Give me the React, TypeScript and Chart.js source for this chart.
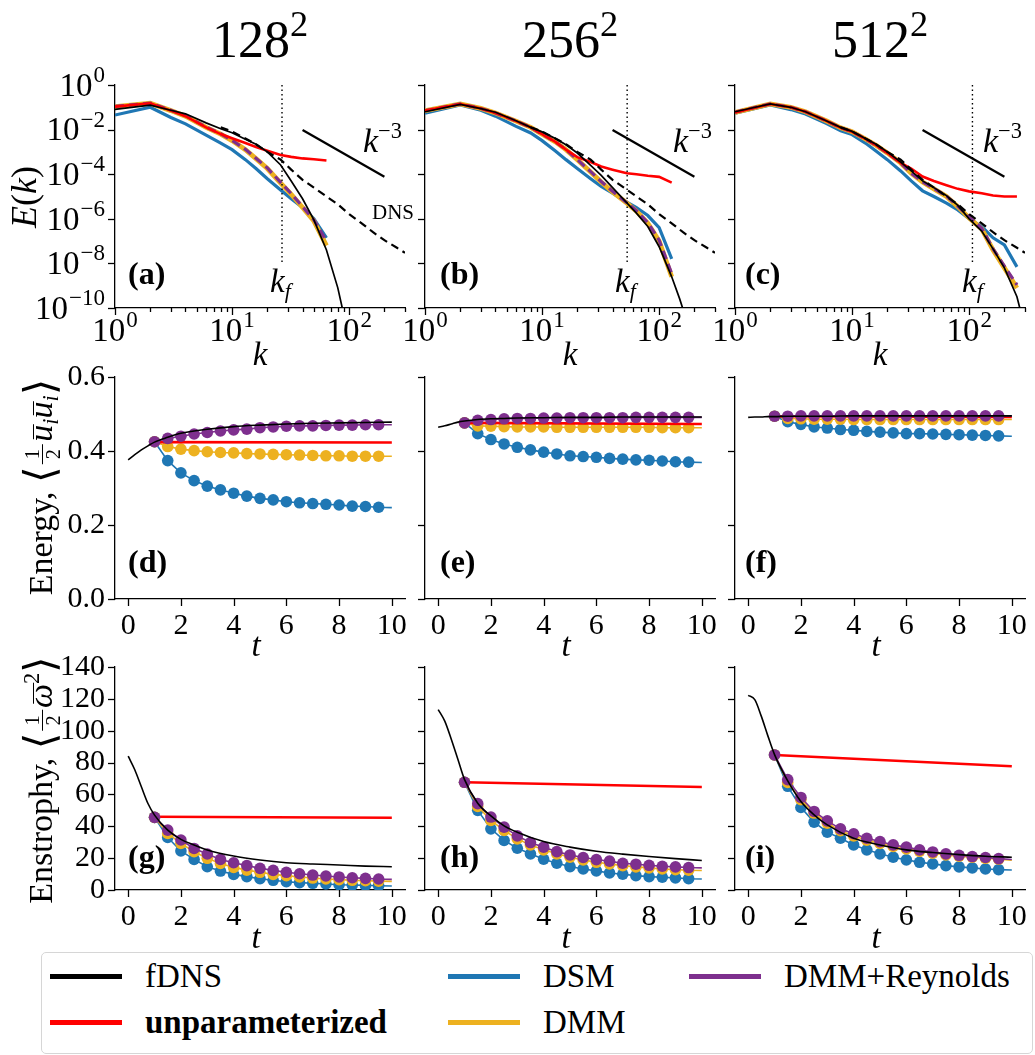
import React, { useEffect, useRef } from "react";
import { Chart, registerables } from "chart.js";

Chart.register(...registerables);

const FONT = "'Liberation Serif', 'DejaVu Serif', serif";

const BLACK = "#000000";
const RED = "#ff0000";
const BLUE = "#1f77b4";
const ORANGE = "#edb120";
const PURPLE = "#7e2f8e";

// ---------- tick values ----------
const K_TICKS = [1, 2, 3, 4, 5, 6, 7, 8, 9, 10, 20, 30, 40, 50, 60, 70, 80, 90, 100, 200, 300];
const E_TICKS = [1e-10, 1e-8, 1e-6, 1e-4, 1e-2, 1];
const T_TICKS = [0, 2, 4, 6, 8, 10];
const EN_TICKS = [0, 0.2, 0.4, 0.6];
const ENS_TICKS = [0, 20, 40, 60, 80, 100, 120, 140];

// ---------- spectra, 128^2 ----------
const K_A_FDNS = [1, 2, 3, 4, 6, 8, 10, 13, 16, 20, 26, 32, 40, 50, 64, 80, 90];
const E_A_FDNS = [8.1e-2, 1.26e-1, 7.4e-2, 5.1e-2, 2.0e-2, 1.1e-2, 7.2e-3, 3.7e-3, 2.2e-3, 1.0e-3, 2.6e-4, 5.0e-5, 7.9e-6, 8.9e-7, 4.0e-8, 8.0e-10, 5.0e-11];
const K_A = [1, 2, 3, 4, 6, 8, 10, 13, 16, 20, 26, 32, 40, 50, 64];
const E_A_DSM = [4.5e-2, 1.0e-1, 3.5e-2, 1.8e-2, 5.6e-3, 2.5e-3, 1.26e-3, 4.5e-4, 1.8e-4, 6.3e-5, 1.95e-5, 7.9e-6, 3.2e-6, 1.0e-6, 1.4e-7];
const E_A_DMM = [1.07e-1, 1.51e-1, 7.1e-2, 4.0e-2, 1.26e-2, 6.3e-3, 3.2e-3, 1.26e-3, 5.0e-4, 1.8e-4, 4.0e-5, 1.26e-5, 3.2e-6, 7.9e-7, 6.3e-8];
const E_A_REY = [1.1e-1, 1.55e-1, 7.4e-2, 4.2e-2, 1.3e-2, 6.5e-3, 3.3e-3, 1.3e-3, 5.2e-4, 1.9e-4, 4.3e-5, 1.35e-5, 3.5e-6, 9.0e-7, 1.0e-7];
const E_A_RED = [1.07e-1, 1.51e-1, 7.1e-2, 4.0e-2, 1.26e-2, 6.3e-3, 4.1e-3, 2.5e-3, 1.66e-3, 1.12e-3, 7.2e-4, 6.0e-4, 5.1e-4, 4.7e-4, 4.1e-4];

// ---------- spectra, 256^2 ----------
const K_B_FDNS = [1, 2, 3, 4, 6, 8, 10, 13, 16, 20, 26, 32, 40, 53, 64, 80, 100, 128, 150, 170];
const E_B_FDNS = [6.3e-2, 1.35e-1, 8.7e-2, 6.0e-2, 2.5e-2, 1.26e-2, 7.9e-3, 4.0e-3, 2.1e-3, 8.9e-4, 2.5e-4, 8.9e-5, 2.5e-5, 5.2e-6, 1.8e-6, 4.5e-7, 5.6e-8, 2.5e-9, 2.5e-10, 3.2e-11];
const K_B = [1, 2, 3, 4, 6, 8, 10, 13, 16, 20, 26, 32, 40, 53, 64, 80, 100, 128];
const E_B_DSM = [5.4e-2, 1.26e-1, 7.4e-2, 4.0e-2, 1.4e-2, 7.1e-3, 3.2e-3, 1.1e-3, 4.5e-4, 1.8e-4, 6.3e-5, 2.8e-5, 1.4e-5, 5.6e-6, 3.2e-6, 1.4e-6, 4.0e-7, 1.6e-8];
const E_B_DMM = [7.1e-2, 1.41e-1, 8.9e-2, 5.6e-2, 2.4e-2, 1.26e-2, 6.3e-3, 2.8e-3, 1.26e-3, 4.5e-4, 1.26e-4, 4.5e-5, 1.6e-5, 5.0e-6, 2.2e-6, 6.3e-7, 1.0e-7, 2.5e-9];
const E_B_REY = [7.1e-2, 1.41e-1, 8.9e-2, 5.6e-2, 2.4e-2, 1.26e-2, 6.3e-3, 2.8e-3, 1.26e-3, 4.5e-4, 1.3e-4, 4.7e-5, 1.7e-5, 5.2e-6, 2.3e-6, 6.8e-7, 1.1e-7, 3.5e-9];
const E_B_RED = [7.1e-2, 1.41e-1, 8.9e-2, 5.6e-2, 2.4e-2, 1.26e-2, 6.3e-3, 2.8e-3, 1.26e-3, 5.8e-4, 3.5e-4, 2.2e-4, 1.6e-4, 1.1e-4, 1.0e-4, 8.5e-5, 7.6e-5, 4.2e-5];

// ---------- spectra, 512^2 ----------
const K_C_FDNS = [1, 2, 3, 4, 6, 8, 10, 13, 16, 20, 26, 32, 40, 50, 64, 80, 100, 128, 160, 200, 256, 280];
const E_C_FDNS = [6.3e-2, 1.41e-1, 1.0e-1, 6.3e-2, 2.5e-2, 1.26e-2, 8.3e-3, 4.0e-3, 2.2e-3, 1.0e-3, 3.5e-4, 1.4e-4, 5.0e-5, 2.5e-5, 1.1e-5, 4.0e-6, 1.0e-6, 2.8e-7, 4.5e-8, 6.3e-9, 3.2e-10, 5.0e-11];
const K_C = [1, 2, 3, 4, 6, 8, 10, 13, 16, 20, 26, 32, 40, 50, 64, 80, 100, 128, 160, 200, 256];
const E_C_DSM = [5.4e-2, 1.26e-1, 7.9e-2, 5.0e-2, 1.9e-2, 8.9e-3, 6.0e-3, 2.5e-3, 1.1e-3, 4.5e-4, 1.4e-4, 5.0e-5, 1.8e-5, 1.0e-5, 5.0e-6, 2.5e-6, 1.0e-6, 4.5e-7, 1.4e-7, 6.8e-8, 7.0e-9];
const E_C_DMM = [5.9e-2, 1.41e-1, 1.0e-1, 6.3e-2, 2.5e-2, 1.2e-2, 8.0e-3, 3.8e-3, 2.0e-3, 9.0e-4, 3.2e-4, 1.1e-4, 4.5e-5, 2.2e-5, 1.0e-5, 3.5e-6, 1.1e-6, 3.5e-7, 4.0e-8, 6.3e-9, 7.9e-10];
const E_C_REY = [6.0e-2, 1.43e-1, 1.0e-1, 6.3e-2, 2.5e-2, 1.2e-2, 8.0e-3, 3.8e-3, 2.0e-3, 9.0e-4, 3.2e-4, 1.1e-4, 4.6e-5, 2.3e-5, 1.05e-5, 3.7e-6, 1.2e-6, 3.8e-7, 4.5e-8, 7.5e-9, 1.1e-9];
const E_C_RED = [5.9e-2, 1.41e-1, 1.0e-1, 6.3e-2, 2.5e-2, 1.2e-2, 8.0e-3, 3.8e-3, 2.0e-3, 9.0e-4, 3.2e-4, 1.8e-4, 7.9e-5, 5.0e-5, 3.2e-5, 2.2e-5, 1.7e-5, 1.4e-5, 1.1e-5, 1.0e-5, 1.0e-5];

// ---------- DNS reference, slope, filter wavenumber ----------
const K_DNS = [8, 10, 13, 16, 20, 26, 32, 40, 50, 64, 80, 100, 128, 160, 200, 256, 300];
const E_DNS = [1.26e-2, 8.3e-3, 4.0e-3, 2.2e-3, 1.0e-3, 4.5e-4, 1.6e-4, 5.6e-5, 2.5e-5, 1.0e-5, 4.5e-6, 1.6e-6, 6.3e-7, 2.5e-7, 1.1e-7, 5.0e-8, 3.0e-8];
const K_SLOPE = [40, 200];
const E_SLOPE = [9.5e-3, 7.6e-5];
const K_F = [26.7, 53.3, 106.7];
const E_KF = [1, 1e-8];

// ---------- time series ----------
const T_M = [1, 1.5, 2, 2.5, 3, 3.5, 4, 4.5, 5, 5.5, 6, 6.5, 7, 7.5, 8, 8.5, 9, 9.5, 10];
const T_F = [0, 0.25, 0.5, 0.75, 1, 1.5, 2, 2.5, 3, 4, 5, 6, 7, 8, 9, 10];
const T_R = [1, 10];

// energy 128^2
const D_FDNS = [0.376, 0.39, 0.403, 0.414, 0.424, 0.437, 0.448, 0.454, 0.459, 0.466, 0.47, 0.473, 0.475, 0.476, 0.477, 0.478];
const D_RED = [0.424, 0.423];
const D_REY = [0.425, 0.434, 0.44, 0.446, 0.45, 0.454, 0.457, 0.459, 0.463, 0.465, 0.467, 0.468, 0.468, 0.469, 0.47, 0.47, 0.471, 0.471, 0.471];
const D_DMM = [0.425, 0.412, 0.405, 0.401, 0.398, 0.396, 0.395, 0.393, 0.392, 0.391, 0.39, 0.389, 0.388, 0.387, 0.387, 0.386, 0.386, 0.386, 0.386];
const D_DSM = [0.425, 0.374, 0.341, 0.32, 0.305, 0.295, 0.286, 0.278, 0.272, 0.268, 0.263, 0.26, 0.258, 0.256, 0.254, 0.251, 0.25, 0.248, 0.247];
// energy 256^2
const E_FDNS_T = [0.464, 0.468, 0.473, 0.478, 0.481, 0.485, 0.487, 0.488, 0.489, 0.49, 0.491, 0.491, 0.492, 0.492, 0.492, 0.492];
const E_RED_T = [0.476, 0.473];
const E_REY_T = [0.476, 0.483, 0.485, 0.487, 0.488, 0.488, 0.489, 0.489, 0.49, 0.49, 0.49, 0.49, 0.49, 0.491, 0.491, 0.491, 0.491, 0.491, 0.491];
const E_DMM_T = [0.476, 0.468, 0.467, 0.466, 0.465, 0.465, 0.465, 0.464, 0.464, 0.464, 0.464, 0.464, 0.464, 0.464, 0.464, 0.463, 0.463, 0.463, 0.463];
const E_DSM_T = [0.476, 0.447, 0.431, 0.419, 0.41, 0.403, 0.397, 0.392, 0.387, 0.385, 0.383, 0.38, 0.378, 0.376, 0.375, 0.373, 0.371, 0.37, 0.369];
// energy 512^2
const F_FDNS = [0.491, 0.492, 0.492, 0.493, 0.493, 0.494, 0.494, 0.494, 0.494, 0.495, 0.495, 0.495, 0.495, 0.495, 0.495, 0.495];
const F_RED = [0.494, 0.492];
const F_REY = [0.494, 0.494, 0.495, 0.495, 0.495, 0.495, 0.495, 0.495, 0.495, 0.495, 0.495, 0.495, 0.495, 0.495, 0.495, 0.495, 0.495, 0.495, 0.495];
const F_DMM = [0.494, 0.488, 0.487, 0.486, 0.486, 0.486, 0.485, 0.485, 0.485, 0.485, 0.485, 0.485, 0.485, 0.485, 0.485, 0.485, 0.485, 0.485, 0.485];
const F_DSM = [0.494, 0.479, 0.472, 0.465, 0.462, 0.458, 0.456, 0.453, 0.451, 0.449, 0.447, 0.447, 0.446, 0.445, 0.444, 0.443, 0.442, 0.441, 0.44];
// enstrophy 128^2
const G_FDNS = [84.0, 75.5, 64.8, 54.3, 47.0, 37.6, 31.8, 28.2, 25.1, 21.3, 18.8, 17.1, 16.3, 15.7, 15.0, 14.6];
const G_RED = [46.0, 45.4];
const G_REY = [45.6, 37.6, 31.4, 26.1, 22.6, 19.2, 17.1, 15.3, 13.6, 12.3, 11.1, 10.2, 9.4, 8.8, 8.2, 7.7, 7.3, 6.9, 6.7];
const G_DMM = [45.6, 35.5, 29.3, 24.0, 19.9, 16.7, 14.2, 12.5, 11.1, 9.8, 9.0, 8.2, 7.5, 6.9, 6.5, 6.1, 5.9, 5.6, 5.4];
const G_DSM = [45.6, 33.0, 24.5, 19.2, 14.6, 11.9, 9.8, 8.4, 7.1, 6.1, 5.2, 4.6, 4.2, 3.8, 3.3, 3.1, 2.9, 2.7, 2.5];
// enstrophy 256^2
const H_FDNS = [113.3, 106.0, 94.5, 81.9, 69.3, 54.5, 46.5, 40.3, 36.3, 30.4, 26.9, 24.3, 22.5, 21.0, 19.7, 18.5];
const H_RED = [67.6, 64.7];
const H_REY = [67.6, 54.2, 45.8, 39.5, 34.0, 29.8, 26.9, 24.1, 22.0, 20.4, 19.1, 18.1, 16.8, 16.2, 15.5, 14.9, 14.5, 14.1, 13.9];
const H_DMM = [67.6, 52.5, 43.7, 37.4, 32.1, 28.3, 25.2, 22.7, 20.6, 18.9, 17.4, 16.4, 15.3, 14.5, 13.9, 13.2, 12.8, 12.4, 12.2];
const H_DSM = [67.6, 50.0, 38.4, 31.1, 26.2, 22.7, 19.3, 16.8, 14.7, 13.2, 12.0, 10.7, 9.9, 9.0, 8.4, 8.0, 7.6, 7.1, 6.9];
// enstrophy 512^2
const I_FDNS = [122.2, 119.5, 109.0, 96.6, 85.0, 68.5, 55.6, 47.2, 40.9, 32.5, 28.3, 25.2, 23.5, 22.2, 21.2, 20.6];
const I_RED = [84.8, 77.7];
const I_REY = [84.8, 69.3, 58.1, 49.3, 43.4, 38.4, 35.3, 32.5, 30.4, 28.3, 26.9, 25.2, 23.9, 22.7, 21.8, 21.0, 20.4, 19.7, 19.1];
const I_DMM = [84.8, 67.5, 56.7, 48.3, 42.0, 37.2, 34.0, 31.3, 29.2, 27.3, 25.8, 24.3, 23.1, 22.0, 21.2, 20.6, 19.9, 19.3, 18.7];
const I_DSM = [84.8, 65.1, 51.8, 42.6, 36.3, 32.5, 28.3, 25.2, 22.7, 20.6, 18.9, 17.4, 16.4, 15.3, 14.5, 13.9, 13.2, 12.8, 12.6];

const TITLES = ["128", "256", "512"];
const PANEL_TAGS = ["(a)", "(b)", "(c)", "(d)", "(e)", "(f)", "(g)", "(h)", "(i)"];
const LEGEND = [
  { label: "fDNS", color: BLACK, bold: false },
  { label: "unparameterized", color: RED, bold: true },
  { label: "DSM", color: BLUE, bold: false },
  { label: "DMM", color: ORANGE, bold: false },
  { label: "DMM+Reynolds", color: PURPLE, bold: false },
];

// ---------- layout ----------
const COLS = [115, 425, 735];
const COL_W = 290;
const ROWS = [
  { top: 85, h: 223 },
  { top: 377, h: 222 },
  { top: 667, h: 223 },
];
const ML = 120;
const MT = 25;
const MR = 25;
const MB = 60;

const isPow10 = (v: number) => Math.abs(Math.log10(v) - Math.round(Math.log10(v))) < 1e-6;

const pts = (xs: number[], ys: number[]) => xs.map((x, i) => ({ x, y: ys[i] }));
const ln = (xs: number[], ys: number[], color: string, width: number, extra: any = {}) => ({
  data: pts(xs, ys),
  borderColor: color,
  backgroundColor: color,
  borderWidth: width,
  pointRadius: 0,
  fill: false,
  tension: 0,
  ...extra,
});
const mk = (xs: number[], ys: number[], color: string) =>
  ln(xs, ys, color, 1.6, {
    pointRadius: (c: any) => (c.dataIndex < xs.length - 1 ? 5.8 : 0),
    pointBorderWidth: 0,
    pointBackgroundColor: color,
  });

function spectrumSets(kf: number[], ef: number[], k: number[], red: number[], rey: number[], dmm: number[], dsm: number[], kfv: number) {
  return [
    ln(kf, ef, BLACK, 1.7),
    ln(K_DNS, E_DNS, BLACK, 2.2, { borderDash: [8, 5] }),
    ln(K_SLOPE, E_SLOPE, BLACK, 2.3),
    ln([kfv, kfv], E_KF, BLACK, 1.4, { borderDash: [1.5, 3] }),
    ln(k, red, RED, 2.6),
    ln(k, rey, PURPLE, 3.2, { borderDash: [9, 5] }),
    ln(k, dmm, ORANGE, 4.8),
    ln(k, dsm, BLUE, 3.2),
  ];
}

function timeSets(fd: number[], red: number[], rey: number[], dmm: number[], dsm: number[]) {
  return [
    ln(T_F, fd, BLACK, 1.6, { cubicInterpolationMode: "monotone" }),
    mk(T_M, rey, PURPLE),
    ln(T_R, red, RED, 2.6),
    mk(T_M, dmm, ORANGE),
    mk(T_M, dsm, BLUE),
  ];
}

type Spec = {
  col: number;
  row: number;
  log: boolean;
  xMin: number;
  xMax: number;
  xTicks: number[];
  yMin: number;
  yMax: number;
  yTicks: number[];
  yFmt: (v: number) => string;
  showY: boolean;
  fs: number;
  datasets: any[];
};

// tick marks + power-of-ten labels (base "10" with a raised exponent)
function axisPlugin(s: Spec) {
  return {
    id: "axisdeco",
    afterDraw(chart: any) {
      const ctx = chart.ctx;
      ctx.save();
      ctx.strokeStyle = "#000";
      ctx.lineWidth = 1.3;
      const sx = chart.scales.x;
      sx.ticks.forEach((t: any) => {
        const major = !s.log || isPow10(t.value);
        const len = major ? 7 : 4;
        const p = Math.round(sx.getPixelForValue(t.value)) + 0.5;
        ctx.beginPath();
        ctx.moveTo(p, sx.top);
        ctx.lineTo(p, sx.top + len);
        ctx.stroke();
      });
      const sy = chart.scales.y;
      sy.ticks.forEach((t: any) => {
        const p = Math.round(sy.getPixelForValue(t.value)) + 0.5;
        ctx.beginPath();
        ctx.moveTo(sy.right, p);
        ctx.lineTo(sy.right - 7, p);
        ctx.stroke();
      });
      if (s.log) {
        const base = s.fs;
        const ex = Math.round(s.fs * 0.7);
        ctx.fillStyle = "#000";
        ctx.textBaseline = "alphabetic";
        const measure = (v: number) => {
          const e = String(Math.round(Math.log10(v))).replace("-", "−");
          ctx.font = `${base}px ${FONT}`;
          const w1 = ctx.measureText("10").width;
          ctx.font = `${ex}px ${FONT}`;
          const w2 = ctx.measureText(e).width;
          return { e, w1, w2 };
        };
        const draw = (v: number, xLeft: number, baseline: number) => {
          const m = measure(v);
          ctx.font = `${base}px ${FONT}`;
          ctx.textAlign = "left";
          ctx.fillText("10", xLeft, baseline);
          ctx.font = `${ex}px ${FONT}`;
          ctx.fillText(m.e, xLeft + m.w1 + 1, baseline - base * 0.42);
          return m;
        };
        sx.ticks.forEach((t: any) => {
          if (!isPow10(t.value)) return;
          const m = measure(t.value);
          const p = sx.getPixelForValue(t.value);
          draw(t.value, p - (m.w1 + m.w2 + 1) / 2, sx.top + 33);
        });
        if (s.showY) {
          sy.ticks.forEach((t: any) => {
            const m = measure(t.value);
            const p = sy.getPixelForValue(t.value);
            draw(t.value, sy.right - 10 - (m.w1 + m.w2 + 1), p + base * 0.33);
          });
        }
      }
      ctx.restore();
    },
  };
}

function Panel({ s }: { s: Spec }) {
  const ref = useRef<HTMLCanvasElement>(null);
  const left = COLS[s.col] - ML;
  const top = ROWS[s.row].top - MT;
  const w = COL_W + ML + MR;
  const h = ROWS[s.row].h + MT + MB;
  useEffect(() => {
    const chart = new Chart(ref.current as HTMLCanvasElement, {
      type: "line",
      data: { datasets: s.datasets },
      options: {
        animation: false,
        responsive: false,
        events: [],
        layout: { padding: { top: MT, right: MR, left: 0, bottom: 0 } },
        plugins: { legend: { display: false }, tooltip: { enabled: false } },
        scales: {
          x: {
            type: s.log ? "logarithmic" : "linear",
            min: s.xMin,
            max: s.xMax,
            afterBuildTicks: (sc: any) => {
              sc.ticks = s.xTicks.map((v) => ({ value: v }));
            },
            afterFit: (sc: any) => {
              sc.height = MB;
            },
            grid: { display: false, drawTicks: true, tickLength: 7 },
            border: { display: true, color: "#000", width: 1.3 },
            ticks: {
              color: "#000",
              font: { family: FONT, size: s.fs },
              padding: 2,
              maxRotation: 0,
              autoSkip: false,
              callback: (v: any) => (s.log ? "" : String(v)),
            },
          },
          y: {
            type: s.log ? "logarithmic" : "linear",
            min: s.yMin,
            max: s.yMax,
            afterBuildTicks: (sc: any) => {
              sc.ticks = s.yTicks.map((v) => ({ value: v }));
            },
            afterFit: (sc: any) => {
              sc.width = ML;
            },
            grid: { display: false, drawTicks: true, tickLength: 7 },
            border: { display: true, color: "#000", width: 1.3 },
            ticks: {
              color: "#000",
              font: { family: FONT, size: s.fs },
              padding: 3,
              autoSkip: false,
              callback: (v: any) => (s.log || !s.showY ? "" : s.yFmt(Number(v))),
            },
          },
        },
      } as any,
      plugins: [axisPlugin(s)],
    });
    return () => chart.destroy();
  }, []);
  return (
    <canvas
      ref={ref}
      width={w}
      height={h}
      style={{ position: "absolute", left, top, width: w, height: h }}
    />
  );
}

function Txt({ x, y, fs, align = "left", style = {}, children }: any) {
  const tr = align === "center" ? "translateX(-50%)" : align === "right" ? "translateX(-100%)" : "none";
  return (
    <div
      style={{
        position: "absolute",
        left: x,
        top: y - 0.8375 * fs,
        fontSize: fs,
        lineHeight: `${fs}px`,
        height: fs,
        fontFamily: FONT,
        whiteSpace: "nowrap",
        transform: tr,
        color: "#000",
        ...style,
      }}
    >
      {children}
    </div>
  );
}

function VLabel({ cx, cy, fs, children }: any) {
  return (
    <div
      style={{
        position: "absolute",
        left: cx,
        top: cy,
        fontSize: fs,
        lineHeight: `${fs}px`,
        height: fs,
        fontFamily: FONT,
        whiteSpace: "nowrap",
        transform: "translate(-50%,-50%) rotate(-90deg)",
        color: "#000",
      }}
    >
      {children}
    </div>
  );
}

const Sup = ({ children, k = 0.68, up = 0.62 }: any) => (
  <span style={{ fontSize: `${k}em`, position: "relative", top: `-${up}em`, lineHeight: 0 }}>{children}</span>
);
const Sub = ({ children, k = 0.68, down = 0.3 }: any) => (
  <span style={{ fontSize: `${k}em`, position: "relative", top: `${down}em`, lineHeight: 0 }}>{children}</span>
);

function Frac({ fs }: { fs: number }) {
  const f = 0.6 * fs;
  return (
    <span style={{ position: "relative", display: "inline-block", width: 0.6 * fs, height: 1, margin: `0 ${0.06 * fs}px` }}>
      <span style={{ position: "absolute", left: 0, right: 0, bottom: 0.26 * fs, textAlign: "center", fontSize: f, lineHeight: `${f}px`, borderBottom: "1.5px solid #000" }}>1</span>
      <span style={{ position: "absolute", left: 0, right: 0, top: -0.24 * fs, textAlign: "center", fontSize: f, lineHeight: `${f}px` }}>2</span>
    </span>
  );
}

function Bar({ fs, children }: any) {
  return (
    <span style={{ position: "relative", display: "inline-block" }}>
      {children}
      <span style={{ position: "absolute", left: "18%", right: "-4%", top: 0.27 * fs, borderTop: "1.5px solid #000" }} />
    </span>
  );
}

const Angle = ({ c }: { c: string }) => (
  <span style={{ fontSize: "1.25em", lineHeight: 0, fontFamily: "'DejaVu Serif', serif", position: "relative", top: "0.05em" }}>{c}</span>
);

export default function App() {
  const specs: Spec[] = [];
  const spec1 = [
    spectrumSets(K_A_FDNS, E_A_FDNS, K_A, E_A_RED, E_A_REY, E_A_DMM, E_A_DSM, K_F[0]),
    spectrumSets(K_B_FDNS, E_B_FDNS, K_B, E_B_RED, E_B_REY, E_B_DMM, E_B_DSM, K_F[1]),
    spectrumSets(K_C_FDNS, E_C_FDNS, K_C, E_C_RED, E_C_REY, E_C_DMM, E_C_DSM, K_F[2]),
  ];
  const spec2 = [
    timeSets(D_FDNS, D_RED, D_REY, D_DMM, D_DSM),
    timeSets(E_FDNS_T, E_RED_T, E_REY_T, E_DMM_T, E_DSM_T),
    timeSets(F_FDNS, F_RED, F_REY, F_DMM, F_DSM),
  ];
  const spec3 = [
    timeSets(G_FDNS, G_RED, G_REY, G_DMM, G_DSM),
    timeSets(H_FDNS, H_RED, H_REY, H_DMM, H_DSM),
    timeSets(I_FDNS, I_RED, I_REY, I_DMM, I_DSM),
  ];
  for (let c = 0; c < 3; c++) {
    specs.push({
      col: c, row: 0, log: true, xMin: 1, xMax: 300, xTicks: K_TICKS,
      yMin: 1e-10, yMax: 1, yTicks: E_TICKS, yFmt: () => "", showY: c === 0,
      fs: 33, datasets: spec1[c],
    });
    specs.push({
      col: c, row: 1, log: false, xMin: -0.5, xMax: 10.5, xTicks: T_TICKS,
      yMin: 0, yMax: 0.6, yTicks: EN_TICKS, yFmt: (v) => v.toFixed(1), showY: c === 0,
      fs: 30, datasets: spec2[c],
    });
    specs.push({
      col: c, row: 2, log: false, xMin: -0.5, xMax: 10.5, xTicks: T_TICKS,
      yMin: 0, yMax: 140, yTicks: ENS_TICKS, yFmt: (v) => String(v), showY: c === 0,
      fs: 30, datasets: spec3[c],
    });
  }

  const tagBase = [284, 572, 867];
  const tagX = [128, 440, 745];
  const xlabBase = [366, 657, 949];

  return (
    <div style={{ position: "absolute", left: 0, top: 0, width: 1035, height: 1055, background: "#fff", overflow: "hidden" }}>
      {specs.map((s, i) => (
        <Panel key={i} s={s} />
      ))}

      {TITLES.map((t, c) => (
        <Txt key={"t" + c} x={COLS[c] + COL_W / 2} y={58} fs={52} align="center">
          {t}
          <Sup k={0.7} up={0.6}>2</Sup>
        </Txt>
      ))}

      {[0, 1, 2].map((r) =>
        [0, 1, 2].map((c) => (
          <Txt key={"tag" + r + c} x={tagX[c]} y={tagBase[r]} fs={32} style={{ fontWeight: "bold" }}>
            {PANEL_TAGS[r * 3 + c]}
          </Txt>
        ))
      )}

      {[0, 1, 2].map((c) => (
        <Txt key={"xk" + c} x={COLS[c] + COL_W / 2} y={xlabBase[0]} fs={33} align="center">
          <i>k</i>
        </Txt>
      ))}
      {[1, 2].map((r) =>
        [0, 1, 2].map((c) => (
          <Txt key={"xt" + r + c} x={COLS[c] + COL_W / 2 - 4} y={xlabBase[r]} fs={33} align="center">
            <i>t</i>
          </Txt>
        ))
      )}

      {[0, 1, 2].map((c) => (
        <Txt key={"slope" + c} x={COLS[c] + 248} y={152} fs={34}>
          <i>k</i>
          <Sup k={0.66} up={0.62}>−3</Sup>
        </Txt>
      ))}
      {[0, 1, 2].map((c) => (
        <Txt key={"kf" + c} x={[270, 615, 962][c]} y={293} fs={33}>
          <i>k</i>
          <Sub k={0.66} down={0.25}>
            <i>f</i>
          </Sub>
        </Txt>
      ))}
      <Txt x={372} y={220} fs={21}>
        DNS
      </Txt>

      <VLabel cx={24} cy={197} fs={36}>
        <i>E</i>(<i>k</i>)
      </VLabel>
      <VLabel cx={41} cy={487} fs={34}>
        Energy, <Angle c="⟨" />
        <Frac fs={34} />
        <Bar fs={34}>
          <i>u</i>
        </Bar>
        <Sub k={0.66} down={0.28}>
          <i>i</i>
        </Sub>
        <Bar fs={34}>
          <i>u</i>
        </Bar>
        <Sub k={0.66} down={0.28}>
          <i>i</i>
        </Sub>
        <Angle c="⟩" />
      </VLabel>
      <VLabel cx={41} cy={780} fs={34}>
        Enstrophy, <Angle c="⟨" />
        <Frac fs={34} />
        <Bar fs={34}>
          <i>ω</i>
        </Bar>
        <Sup k={0.66} up={0.6}>
          2
        </Sup>
        <Angle c="⟩" />
      </VLabel>

      <div
        style={{
          position: "absolute",
          left: 41,
          top: 952,
          width: 990,
          height: 100,
          border: "1.5px solid #d6d6d6",
          borderRadius: 5,
          background: "#fff",
        }}
      />
      {LEGEND.map((e, i) => {
        const x = [50, 50, 448, 448, 689][i];
        const y = [976, 1022, 976, 1022, 976][i];
        return (
          <React.Fragment key={"lg" + i}>
            <div style={{ position: "absolute", left: x, top: y - 2.5, width: 72, height: 5, background: e.color }} />
            <Txt x={x + 95} y={y + 12} fs={33} style={{ fontWeight: e.bold ? "bold" : "normal" }}>
              {e.label}
            </Txt>
          </React.Fragment>
        );
      })}
    </div>
  );
}
